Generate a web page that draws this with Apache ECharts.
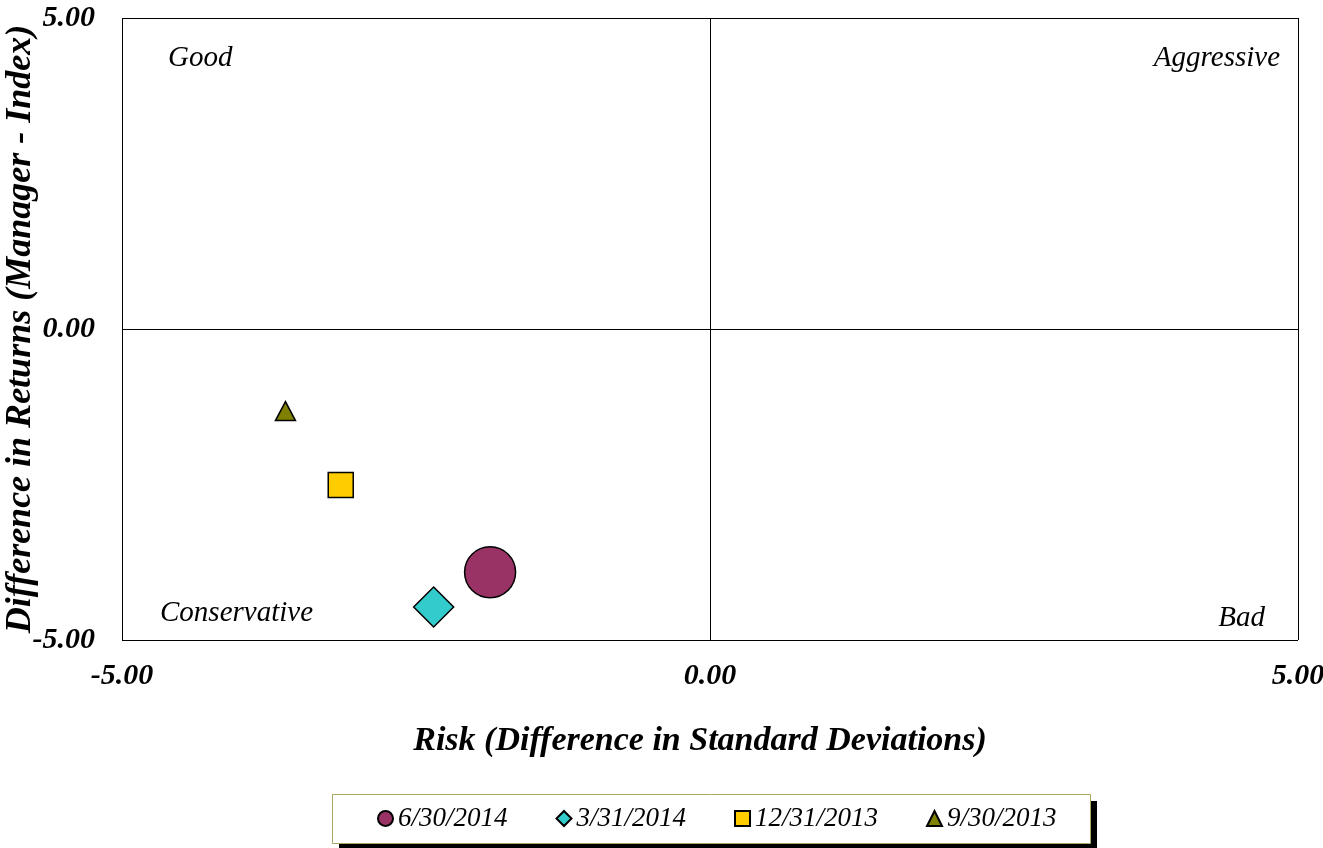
<!DOCTYPE html>
<html>
<head>
<meta charset="utf-8">
<script src="https://cdn.jsdelivr.net/npm/echarts@6/dist/echarts.min.js"></script>
<style>
html,body{margin:0;padding:0;background:#fff;}
#c{width:1323px;height:848px;}
</style>
</head>
<body>
<div id="c"></div>
<script>
const seriesNames = ['6/30/2014', '3/31/2014', '12/31/2013', '9/30/2013'];
const riskValues = [-1.87, -2.35, -3.14, -3.61];
const returnValues = [-3.91, -4.47, -2.51, -1.32];
const symbols = ['circle', 'diamond', 'rect', 'triangle'];
const colors = ['#993366', '#33CCCC', '#FFCC00', '#808000'];
const symbolSizes = [51, 40, 25, [20, 19]];
const quadrantLabels = ['Good', 'Aggressive', 'Conservative', 'Bad'];
const axisMin = -5, axisMax = 5, axisStep = 5;

const FONT = '"Liberation Serif", "DejaVu Serif", serif';
const chart = echarts.init(document.getElementById('c'));

const series = seriesNames.map((n, i) => ({
  name: n,
  type: 'scatter',
  symbol: symbols[i],
  symbolSize: symbolSizes[i],
  data: [[riskValues[i], returnValues[i]]],
  itemStyle: { color: colors[i], borderColor: '#000', borderWidth: 1.5, opacity: 1 },
  z: 3
}));

const qText = (text, opts) => Object.assign({
  type: 'text', z: 5,
  style: { text: text, font: 'italic 29px ' + FONT, fill: '#000', textVerticalAlign: 'middle' }
}, opts);

chart.setOption({
  animation: false,
  backgroundColor: '#fff',
  grid: { left: 122, top: 18, right: 25, bottom: 208, containLabel: false, outerBoundsMode: 'none' },
  xAxis: {
    type: 'value', min: axisMin, max: axisMax, interval: axisStep,
    name: 'Risk (Difference in Standard Deviations)',
    nameLocation: 'middle', nameGap: 84,
    nameTextStyle: { fontFamily: FONT, fontSize: 34, fontWeight: 'bold', fontStyle: 'italic', color: '#000', padding: [0, 20, 0, 0] },
    axisLine: { show: false }, axisTick: { show: false },
    splitLine: { show: true, lineStyle: { color: '#000', width: 1 } },
    axisLabel: { formatter: v => v.toFixed(2), margin: 21, fontFamily: FONT, fontSize: 30, fontWeight: 'bold', fontStyle: 'italic', color: '#000' }
  },
  yAxis: {
    type: 'value', min: axisMin, max: axisMax, interval: axisStep,
    name: 'Difference in Returns (Manager - Index)',
    nameLocation: 'middle', nameGap: 83, nameRotate: 90, nameMoveOverlap: false,
    nameTextStyle: { fontFamily: FONT, fontSize: 36, fontWeight: 'bold', fontStyle: 'italic', color: '#000' },
    axisLine: { show: false }, axisTick: { show: false },
    splitLine: { show: true, lineStyle: { color: '#000', width: 1 } },
    axisLabel: { formatter: v => v.toFixed(2), margin: 27, fontFamily: FONT, fontSize: 30, fontWeight: 'bold', fontStyle: 'italic', color: '#000' }
  },
  legend: {
    data: seriesNames,
    left: 377, top: 804,
    orient: 'horizontal',
    padding: 0,
    itemGap: 48, itemWidth: 15, itemHeight: 15,
    backgroundColor: 'transparent',
    borderWidth: 0,
    z: 10,
    textStyle: { fontFamily: FONT, fontSize: 27, fontStyle: 'italic', color: '#000', lineHeight: 29 }
  },
  graphic: [
    { type: 'rect', z: 1, shape: { x: 339, y: 801, width: 758, height: 49 }, style: { fill: '#000' } },
    { type: 'rect', z: 2, shape: { x: 332.5, y: 794.5, width: 758, height: 49 }, style: { fill: '#fff', stroke: '#a8a860', lineWidth: 1 } },
    qText(quadrantLabels[0], { left: 168, top: 44 }),
    qText(quadrantLabels[1], { right: 43, top: 44 }),
    qText(quadrantLabels[2], { left: 160, top: 599 }),
    qText(quadrantLabels[3], { right: 58, top: 604 })
  ],
  series: series
});
</script>
</body>
</html>
